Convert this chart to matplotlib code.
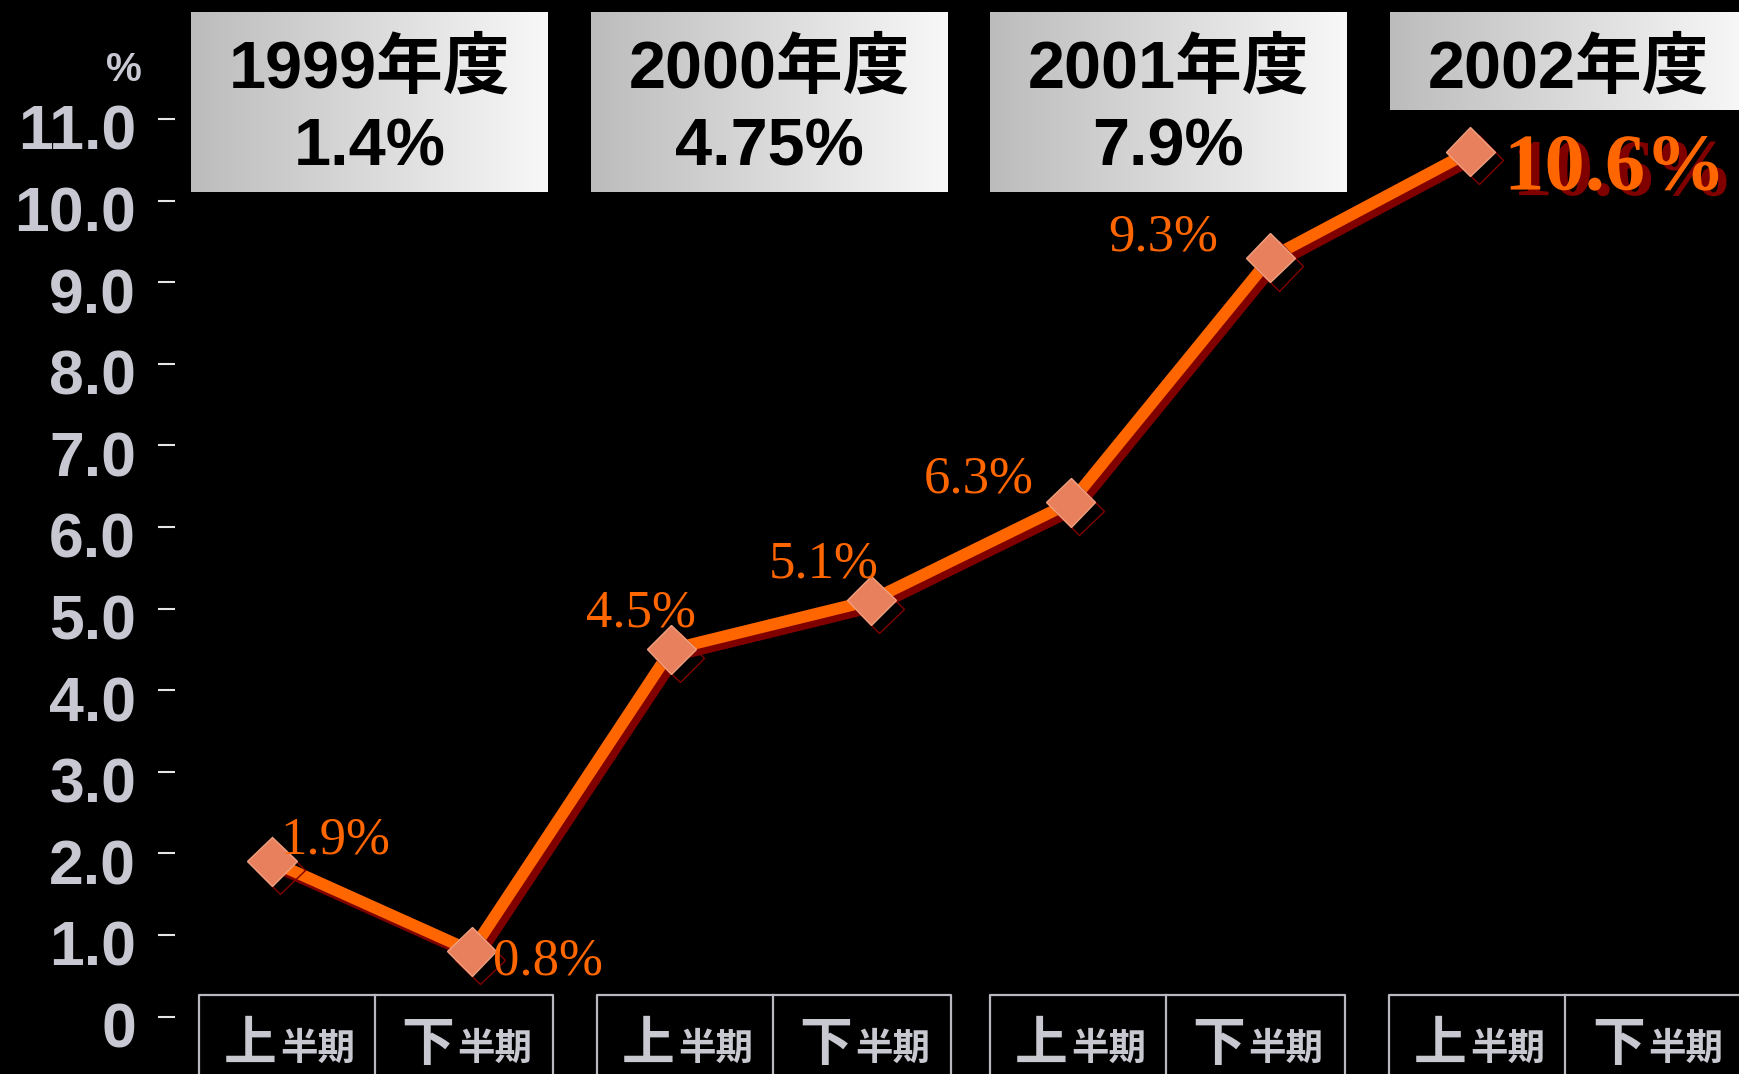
import numpy as np
import matplotlib.pyplot as plt
import matplotlib.patheffects as pe
from matplotlib.colors import LinearSegmentedColormap
from matplotlib.transforms import ScaledTranslation

# data
years = ['1999年度', '2000年度', '2001年度', '2002年度']
year_rates = ['1.4%', '4.75%', '7.9%', '']
half_big = ['上', '下']
half_small = '半期'
growth = [1.9, 0.8, 4.5, 5.1, 6.3, 9.3, 10.6]
growth_labels = ['1.9%', '0.8%', '4.5%', '5.1%', '6.3%', '9.3%', '10.6%']
ytick_vals = list(range(12))
ytick_labels = ['0'] + ['%.1f' % v for v in range(1, 12)]

W, H = 1740, 1074
fig = plt.figure(figsize=(W / 100, H / 100), dpi=100, facecolor='black')

# pixel-space layer for the header / footer boxes
deco = fig.add_axes([0, 0, 1, 1], zorder=0)
deco.axis('off')

grey = LinearSegmentedColormap.from_list('grey', ['#bcbcbc', '#f8f8f8'])
grad = np.linspace(0, 1, 256).reshape(1, -1)
top_x = [191, 591, 990, 1390]
box_w = 357
for x0, yr, rate in zip(top_x, years, year_rates):
    y1 = 192 if rate else 110
    deco.imshow(grad, cmap=grey, extent=[x0, x0 + box_w, y1, 12],
                aspect='auto', interpolation='bicubic')
    cx = x0 + box_w / 2
    deco.text(cx, 70, yr, ha='center', va='center', fontsize=48, fontweight='bold',
              family=['Liberation Sans', 'Noto Sans CJK JP'], color='black')
    if rate:
        deco.text(cx, 149, rate, ha='center', va='center', fontsize=48, fontweight='bold',
                  family=['Liberation Sans', 'Noto Sans CJK JP'], color='black')

# half-year boxes along the bottom
bot_x = [(199, 375, 553), (597, 773, 951), (990, 1166, 1345), (1389, 1565, 1745)]
line_c = '#b8b8c0'
for l, m, r in bot_x:
    deco.plot([l, l, r, r], [H + 5, 995, 995, H + 5], color=line_c, lw=1.6)
    deco.plot([m, m], [995, H + 5], color=line_c, lw=1.6)
    for (a, b), big in zip([(l, m), (m, r)], half_big):
        c = (a + b) / 2
        deco.text(c - 10, 1060, big, ha='right', va='baseline', fontsize=38,
                  fontweight='bold', family='Noto Sans CJK JP', color='#c8c8d0')
        deco.text(c - 7, 1060, half_small, ha='left', va='baseline', fontsize=27,
                  fontweight='bold', family='Noto Sans CJK JP', color='#c8c8d0')

deco.text(124, 70, '%', ha='center', va='center', fontsize=29, fontweight='bold',
          family='Liberation Sans', color='#c8c8d2')
deco.set_xlim(0, W)
deco.set_ylim(H, 0)

# main chart
ax = fig.add_axes([175 / W, (H - 1016.5) / H, 1 - 175 / W, 1016.5 / H], zorder=1)
ax.set_facecolor('none')
x = np.arange(len(growth))
ax.plot(x, growth, color='#ff6600', lw=8.5, clip_on=False,
        path_effects=[pe.SimpleLineShadow(offset=(4, -4), shadow_color='#800000', alpha=1),
                      pe.Normal()])
ax.plot(x, growth, ls='none', marker='D', ms=25, mfc='#e8805e', mec='#f0a07e', mew=1,
        clip_on=False,
        path_effects=[pe.SimpleLineShadow(offset=(6, -6), shadow_color='#800000', alpha=1),
                      pe.Normal()])

# label offsets in pixels (dx, dy down) and alignment
offs = [(8, -8, 'left'), (21, 23, 'left'), (-30, -23, 'center'), (-47, -23, 'center'),
        (-92, -10, 'center'), (-107, -7, 'center'), (34, 38, 'left')]
for xi, v, lab, (dx, dy, ha) in zip(x, growth, growth_labels, offs):
    last = xi == len(growth) - 1
    t = ax.annotate(lab, (xi, v), xytext=(dx * 0.72, -dy * 0.72), textcoords='offset points',
                    ha=ha, va='baseline', color='#ff6600', family='Liberation Serif',
                    fontsize=58 if last else 38, fontweight='bold' if last else 'normal')
    if last:
        t.set_path_effects([pe.SimplePatchShadow(offset=(6, -4), shadow_rgbFace='#800000', alpha=1),
                            pe.Normal()])

ax.set_xlim((175 - 272) / 199.7, (W - 272) / 199.7)
ax.set_ylim(0, 1016.5 / 81.6)
for s in ax.spines.values():
    s.set_visible(False)
ax.set_xticks([])
ax.set_yticks(ytick_vals, ytick_labels, fontweight='bold', family='Liberation Sans')
ax.tick_params(axis='y', length=12, width=1.5, color='#e6e6e6', pad=16,
               labelsize=45, labelcolor='#c8c8d2')
shift = ScaledTranslation(0, -0.08, fig.dpi_scale_trans)
for lbl in ax.get_yticklabels():
    lbl.set_transform(lbl.get_transform() + shift)

fig.savefig('out.png', dpi=100, facecolor='black')
